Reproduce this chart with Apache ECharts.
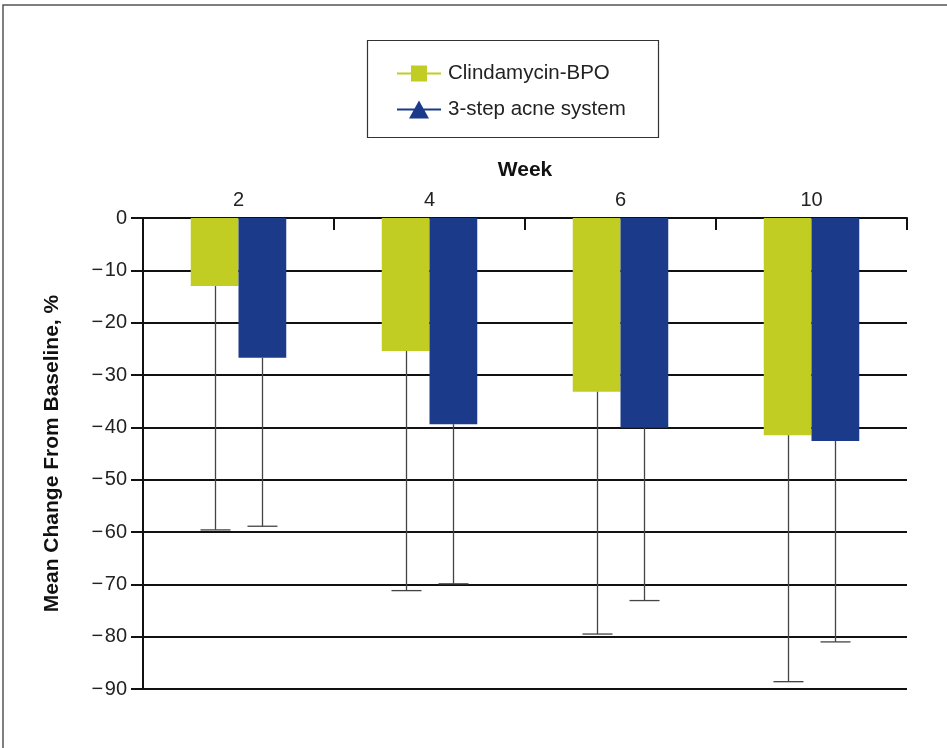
<!DOCTYPE html>
<html>
<head>
<meta charset="utf-8">
<script src="https://cdn.jsdelivr.net/npm/echarts@6/dist/echarts.min.js"></script>
<style>
  html, body { margin: 0; padding: 0; background: #fff; }
  #chart { width: 947px; height: 748px; }
</style>
</head>
<body>
<div id="chart"></div>
<script>
// Weeks on the top axis
const weeks = ['2', '4', '6', '10'];
// Mean change from baseline (%) per treatment
const clindaMean = [-13.0, -25.4, -33.2, -41.5];
const acneMean = [-26.7, -39.4, -40.1, -42.6];
// Lower end of each error bar (%)
const clindaLow = [-59.6, -71.2, -79.5, -88.6];
const acneLow = [-58.9, -69.9, -73.1, -81.0];
// Y-axis ticks
const yMin = -90, yMax = 0, yStep = 10;

const seriesNames = ['Clindamycin-BPO', '3-step acne system'];
const colors = ['#C2CD23', '#1B3A8A'];
const font = 'Liberation Sans, Arial, Helvetica, sans-serif';

function errorSeries(means, lows, side) {
  return {
    type: 'custom',
    silent: true,
    z: 5,
    data: weeks.map((w, i) => [i, means[i], lows[i]]),
    renderItem: function (params, api) {
      const band = api.size([1, 0])[0];
      const off = side * band * 0.125;
      const top = api.coord([api.value(0), api.value(1)]);
      const bot = api.coord([api.value(0), api.value(2)]);
      const x = Math.round(top[0] + off) + 0.5;
      const cap = 15;
      return {
        type: 'group',
        children: [
          { type: 'line', shape: { x1: x, y1: top[1], x2: x, y2: bot[1] },
            style: { stroke: '#444', lineWidth: 1.3 } },
          { type: 'line', shape: { x1: x - cap, y1: bot[1], x2: x + cap, y2: bot[1] },
            style: { stroke: '#444', lineWidth: 1.3 } }
        ]
      };
    }
  };
}

// Short downward ticks on the top axis at the category boundaries
function boundaryTicks() {
  return {
    type: 'custom',
    silent: true,
    z: 6,
    data: weeks.map((w, i) => [i]),
    renderItem: function (params, api) {
      const band = api.size([1, 0])[0];
      const c = api.coord([api.value(0), 0]);
      const x = Math.round(c[0] + band / 2);
      return { type: 'line', shape: { x1: x, y1: c[1], x2: x, y2: c[1] + 12 },
        style: { stroke: '#111', lineWidth: 2 } };
    }
  };
}

const chart = echarts.init(document.getElementById('chart'));
chart.setOption({
  animation: false,
  backgroundColor: '#fff',
  graphic: [
    { type: 'rect', shape: { x: 3, y: 5, width: 980, height: 800 },
      style: { fill: 'none', stroke: '#555', lineWidth: 1.5 }, z: -10 },
    { type: 'rect', shape: { x: 367.5, y: 40.5, width: 291, height: 97 },
      style: { fill: 'none', stroke: '#333', lineWidth: 1.2 }, z: -5 }
  ],
  legend: {
    orient: 'vertical',
    left: 397,
    top: 63,
    itemWidth: 44,
    itemHeight: 20,
    itemGap: 15,
    padding: 0,
    textStyle: { fontFamily: font, fontSize: 20.5, color: '#222', padding: [0, 0, 0, 2] },
    data: [
      { name: seriesNames[0], icon: 'path://M0,9H44V11H0Z M14,2H30V18H14Z', itemStyle: { color: colors[0] } },
      { name: seriesNames[1], icon: 'path://M0,9H44V11H0Z M22,1L32,19H12Z', itemStyle: { color: colors[1] } }
    ]
  },
  grid: { left: 143, right: 40, top: 218, bottom: 59, containLabel: false },
  xAxis: {
    type: 'category',
    position: 'top',
    data: weeks,
    name: 'Week',
    nameLocation: 'middle',
    nameGap: 37,
    nameTextStyle: { fontFamily: font, fontSize: 21, fontWeight: 'bold', color: '#111' },
    axisLine: { lineStyle: { color: '#111', width: 2 } },
    axisTick: { show: false },
    axisLabel: { fontFamily: font, fontSize: 20, color: '#222', margin: 8 },
    splitLine: { show: false }
  },
  yAxis: {
    type: 'value',
    min: yMin,
    max: yMax,
    interval: yStep,
    name: 'Mean Change From Baseline, %',
    nameLocation: 'middle',
    nameGap: 80,
    nameRotate: 90,
    nameTextStyle: { fontFamily: font, fontSize: 21, fontWeight: 'bold', color: '#111' },
    axisLine: { show: true, lineStyle: { color: '#111', width: 2 } },
    axisTick: { show: true, length: 12, lineStyle: { color: '#111', width: 2 } },
    axisLabel: {
      fontFamily: font, fontSize: 20, color: '#222', margin: 16,
      formatter: v => String(v).replace('-', '\u2212\u200A')
    },
    splitLine: { show: true, lineStyle: { color: '#111', width: 2 } }
  },
  series: [
    { name: seriesNames[0], type: 'bar', data: clindaMean, barWidth: '25%', barGap: '0%',
      itemStyle: { color: colors[0] }, z: 3 },
    { name: seriesNames[1], type: 'bar', data: acneMean, barWidth: '25%', barGap: '0%',
      itemStyle: { color: colors[1] }, z: 3 },
    errorSeries(clindaMean, clindaLow, -1),
    errorSeries(acneMean, acneLow, 1),
    boundaryTicks()
  ]
});
</script>
</body>
</html>
